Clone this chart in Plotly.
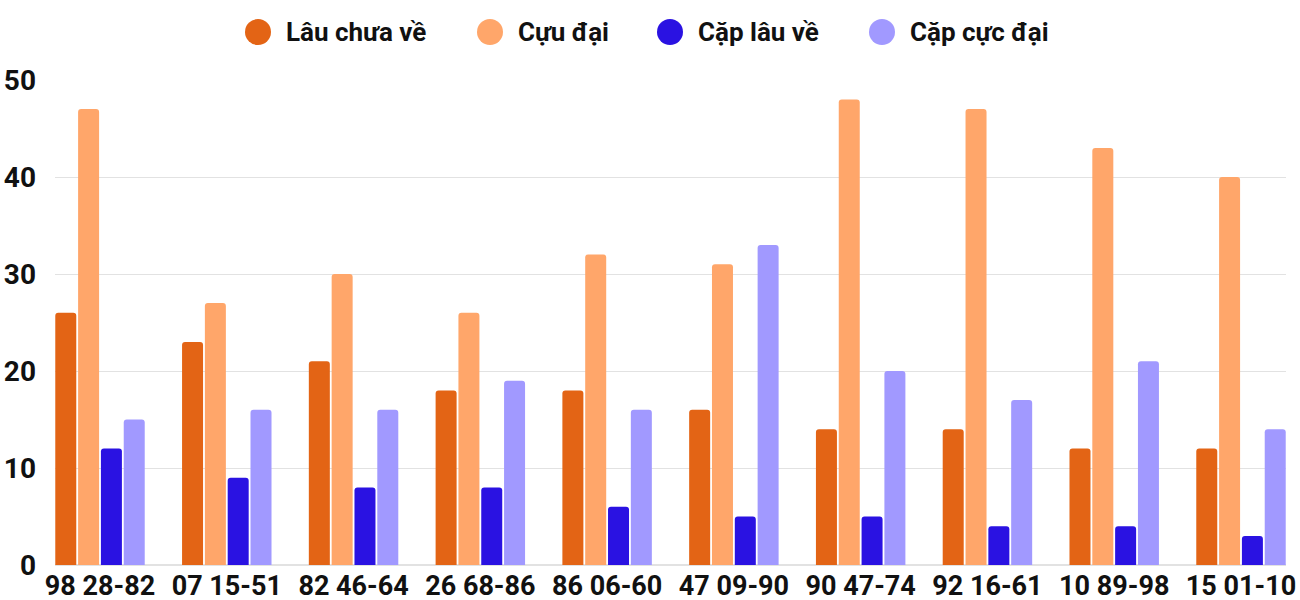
import plotly.graph_objects as go

categories = ["98 28-82", "07 15-51", "82 46-64", "26 68-86", "86 06-60",
              "47 09-90", "90 47-74", "92 16-61", "10 89-98", "15 01-10"]
series_names = ["Lâu chưa về", "Cựu đại", "Cặp lâu về", "Cặp cực đại"]
lau_chua_ve = [26, 23, 21, 18, 18, 16, 14, 14, 12, 12]
cuu_dai = [47, 27, 30, 26, 32, 31, 48, 47, 43, 40]
cap_lau_ve = [12, 9, 8, 8, 6, 5, 5, 4, 4, 3]
cap_cuc_dai = [15, 16, 16, 19, 16, 33, 20, 17, 21, 14]
colors = ["#E36415", "#FFA66A", "#2A12E2", "#A199FF"]
y_ticks = [0, 10, 20, 30, 40, 50]

W, H = 1300, 600
ML, MR, MT, MB = 55, 14, 80, 35
PW, PH = W - ML - MR, H - MT - MB

fig = go.Figure()
for name, vals, col in zip(series_names, [lau_chua_ve, cuu_dai, cap_lau_ve, cap_cuc_dai], colors):
    fig.add_trace(go.Bar(x=categories, y=vals, name=name, marker_color=col,
                         marker_line_width=0, showlegend=False))

# Custom legend (large circles like the reference)
legend_circle_px = [258, 490, 670, 882]
legend_y_px = 32
for name, col, cx in zip(series_names, colors, legend_circle_px):
    xp = (cx - ML) / PW
    yp = (H - MB - legend_y_px) / PH
    fig.add_shape(type="circle", xref="paper", yref="paper",
                  xsizemode="pixel", ysizemode="pixel",
                  xanchor=xp, yanchor=yp, x0=-13, x1=13, y0=-13, y1=13,
                  fillcolor=col, line_width=0)
    fig.add_annotation(text=name, xref="paper", yref="paper",
                       x=(cx + 26 - ML) / PW, y=yp, xanchor="left", yanchor="middle",
                       showarrow=False,
                       font=dict(family="Roboto", size=26, weight="bold", color="#111111"))

fig.update_layout(
    width=W, height=H,
    margin=dict(l=ML, r=MR, t=MT, b=MB, autoexpand=False),
    plot_bgcolor="white", paper_bgcolor="white",
    barmode="group", bargap=0.28, bargroupgap=0.08, barcornerradius=3,
    showlegend=False,
    font=dict(family="Roboto", size=24, color="#111111", weight="bold"),
    xaxis=dict(type="category", range=[-0.355, 9.355], showgrid=False,
               tickfont=dict(family="Roboto", size=27, weight="bold", color="#111111"),
               ticks="", showline=False, automargin=False, ticklabelstandoff=2),
    yaxis=dict(range=[0, 50], tickvals=y_ticks, showgrid=True, gridcolor="#E2E2E2",
               gridwidth=1, zeroline=True, zerolinecolor="#E2E2E2", zerolinewidth=2,
               tickfont=dict(family="Roboto", size=28, weight="bold", color="#111111"),
               ticks="", ticklabelstandoff=18, automargin=False),
)
fig.write_html("out.html")
